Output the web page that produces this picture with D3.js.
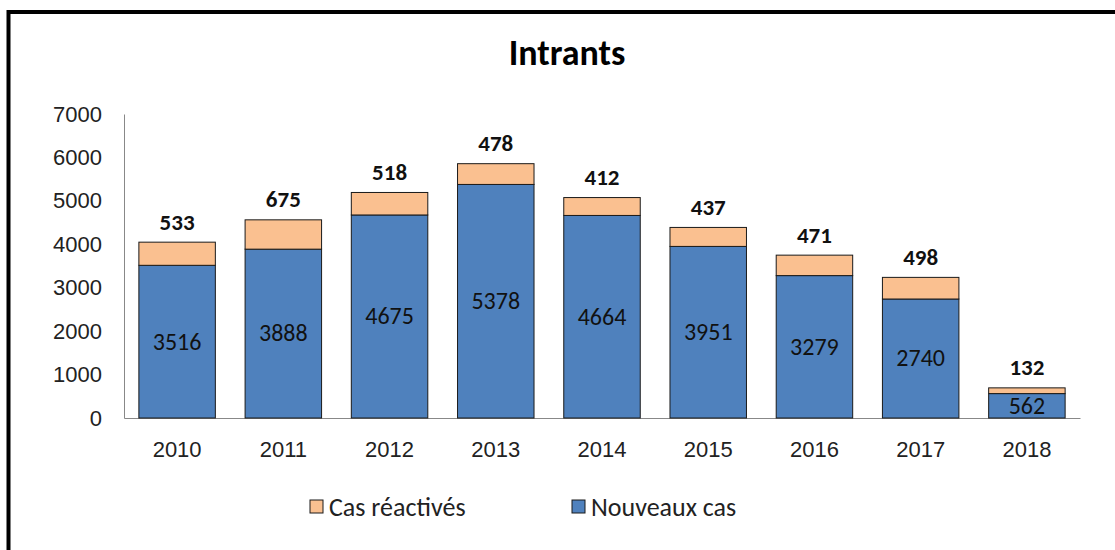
<!DOCTYPE html>
<html>
<head>
<meta charset="utf-8">
<script src="https://cdn.jsdelivr.net/npm/d3@7"></script>
<style>
  body { margin: 0; background: #fff; }
  svg { display: block; font-family: Carlito, "Open Sans", "Noto Sans", sans-serif; }
</style>
</head>
<body>
<svg width="1115" height="550"></svg>
<script>
// data
var years = ["2010", "2011", "2012", "2013", "2014", "2015", "2016", "2017", "2018"];
var nouveaux = [3516, 3888, 4675, 5378, 4664, 3951, 3279, 2740, 562];
var reactives = [533, 675, 518, 478, 412, 437, 471, 498, 132];
var yTicks = [0, 1000, 2000, 3000, 4000, 5000, 6000, 7000];

var blue = "#4f81bd", orange = "#fac090";

var svg = d3.select("svg");

// frame
svg.append("rect")
  .attr("x", 8.5).attr("y", 12)
  .attr("width", 1115).attr("height", 560)
  .attr("fill", "none").attr("stroke", "#000").attr("stroke-width", 4);

var x = d3.scaleBand().domain(years).range([124, 1080]).paddingInner(0.28).paddingOuter(0.14);
var y = d3.scaleLinear().domain([0, 7000]).range([418, 114]);

// title
svg.append("text")
  .attr("x", 567).attr("y", 65)
  .attr("text-anchor", "middle")
  .style("font-size", "36px").style("font-weight", "bold")
  .text("Intrants");

// y axis
var yAxis = svg.append("g")
  .attr("transform", "translate(124,0)")
  .call(d3.axisLeft(y).tickValues(yTicks).tickFormat(d3.format("d")).tickSize(0).tickPadding(22));
yAxis.select(".domain").attr("stroke", "#888");
yAxis.selectAll("text").style("font-size", "22px").attr("fill", "#222");

// x axis
var xAxis = svg.append("g")
  .attr("transform", "translate(0,418)")
  .call(d3.axisBottom(x).tickSize(0).tickPadding(23));
xAxis.select(".domain").attr("stroke", "#888");
xAxis.selectAll("text").style("font-size", "22px").attr("fill", "#222");

var rows = years.map(function(d, i){ return {year: d, n: nouveaux[i], r: reactives[i]}; });

// blue
svg.selectAll(".bn").data(rows).enter().append("rect")
  .attr("x", function(d){ return x(d.year); })
  .attr("width", x.bandwidth())
  .attr("y", function(d){ return y(d.n); })
  .attr("height", function(d){ return y(0) - y(d.n); })
  .attr("fill", blue).attr("stroke", "#1a1a1a").attr("stroke-width", 1);

// orange
svg.selectAll(".br").data(rows).enter().append("rect")
  .attr("x", function(d){ return x(d.year); })
  .attr("width", x.bandwidth())
  .attr("y", function(d){ return y(d.n + d.r); })
  .attr("height", function(d){ return y(d.n) - y(d.n + d.r); })
  .attr("fill", orange).attr("stroke", "#1a1a1a").attr("stroke-width", 1);

// labels inside blue
svg.selectAll(".ln").data(rows).enter().append("text")
  .attr("x", function(d){ return x(d.year) + x.bandwidth() / 2; })
  .attr("y", function(d){ return (y(0) + y(d.n)) / 2; })
  .attr("dy", "0.33em")
  .attr("text-anchor", "middle")
  .style("font-size", "24px").attr("fill", "#111")
  .text(function(d){ return d.n; });

// labels above
svg.selectAll(".lr").data(rows).enter().append("text")
  .attr("x", function(d){ return x(d.year) + x.bandwidth() / 2; })
  .attr("y", function(d){ return y(d.n + d.r) - 20; })
  .attr("dy", "0.33em")
  .attr("text-anchor", "middle")
  .style("font-size", "23px").style("font-weight", "bold").attr("fill", "#111")
  .text(function(d){ return d.r; });

// legend
var legend = [{name: "Cas réactivés", color: orange, x: 310}, {name: "Nouveaux cas", color: blue, x: 572}];
var lg = svg.selectAll(".lg").data(legend).enter().append("g")
  .attr("transform", function(d){ return "translate(" + d.x + ",500)"; });
lg.append("rect").attr("width", 13).attr("height", 13)
  .attr("fill", function(d){ return d.color; }).attr("stroke", "#1a1a1a");
lg.append("text").attr("x", 19).attr("y", 7).attr("dy", "0.33em")
  .style("font-size", "26px").attr("fill", "#222")
  .text(function(d){ return d.name; });
</script>
</body>
</html>
